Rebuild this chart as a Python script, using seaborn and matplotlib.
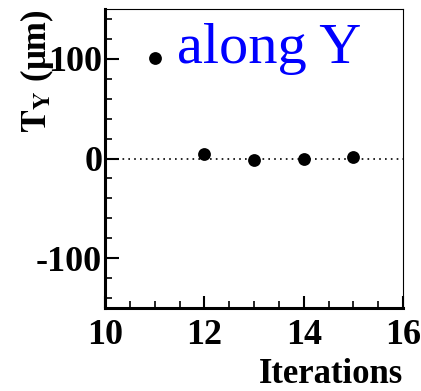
import matplotlib
matplotlib.use('Agg')
import matplotlib.pyplot as plt
import seaborn as sns
import pandas as pd
from matplotlib.ticker import MultipleLocator

# values
iterations = [11, 12, 13, 14, 15]
t_y = [101, 4.5, -2, -0.5, 2]

sns.set_style('ticks')
plt.rcParams['font.family'] = ['Liberation Serif', 'DejaVu Serif']
plt.rcParams['mathtext.fontset'] = 'stix'
plt.rcParams['axes.unicode_minus'] = False
plt.rcParams['text.color'] = 'black'
plt.rcParams['axes.labelcolor'] = 'black'
plt.rcParams['xtick.color'] = 'black'
plt.rcParams['ytick.color'] = 'black'
plt.rcParams['axes.edgecolor'] = 'black'

df = pd.DataFrame({'iter': iterations, 'ty': t_y})

fig = plt.figure(figsize=(4.21, 3.91), dpi=100)
ax = fig.add_axes([105 / 421, 1 - 308 / 391, 298 / 421, 299 / 391])

ax.axhline(0, color='black', lw=1.2, ls=(0, (1, 2.5)), zorder=1)
sns.scatterplot(data=df, x='iter', y='ty', ax=ax, color='black', s=85,
                edgecolor='black', linewidth=0, zorder=3, legend=False)

ax.set_xlim(10, 16)
ax.set_ylim(-150, 150)
ax.xaxis.set_major_locator(MultipleLocator(2))
ax.xaxis.set_minor_locator(MultipleLocator(0.5))
ax.yaxis.set_major_locator(MultipleLocator(100))
ax.yaxis.set_minor_locator(MultipleLocator(20))

ax.tick_params(axis='both', which='both', direction='in', top=False, right=False)
ax.tick_params(axis='y', which='major', length=10, width=1.5, pad=2, labelsize=26)
ax.tick_params(axis='y', which='minor', length=5, width=1.2)
ax.tick_params(axis='x', which='major', length=9, width=1.5, pad=8, labelsize=26)
ax.tick_params(axis='x', which='minor', length=5, width=1.2)
for lab in ax.get_xticklabels() + ax.get_yticklabels():
    lab.set_fontweight('bold')

for side in ['left', 'bottom']:
    ax.spines[side].set_linewidth(2.2)
for side in ['top', 'right']:
    ax.spines[side].set_linewidth(0.8)

ax.set_xlabel('Iterations', fontsize=25, fontweight='bold', loc='right', labelpad=4)
ax.set_ylabel(r'$\mathbf{T}_{\mathbf{Y}}$ (μm)', fontsize=25, fontweight='bold',
              loc='top', labelpad=-14)

ax.text(177 / 421, 1 - 63 / 391, 'along Y', transform=fig.transFigure, color='blue',
        fontsize=42, ha='left', va='baseline')

fig.savefig('out.png', dpi=100)
